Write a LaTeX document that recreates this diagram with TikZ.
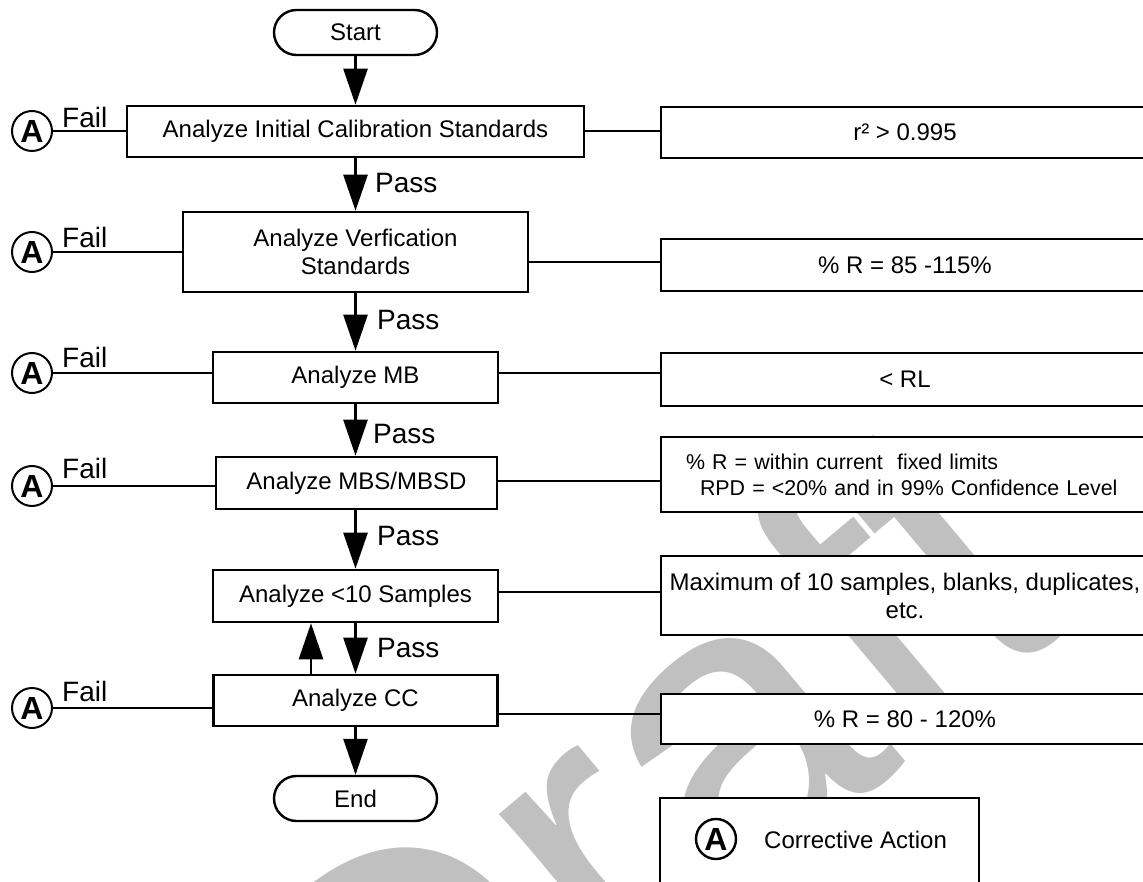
\documentclass[tikz,border=0pt]{standalone}
\usepackage{fontspec}
\setmainfont{Liberation Sans}
\usetikzlibrary{arrows.meta,shapes.misc}
\definecolor{wmgray}{RGB}{192,192,192}
\begin{document}
\begin{tikzpicture}[x=1pt,y=-1pt,
  proc/.style={draw,line width=2.6pt,fill=white,inner sep=0pt,
    font=\fontsize{24}{28}\selectfont,align=center},
  crit/.style={proc,minimum width=488pt},
  term/.style={draw,rounded rectangle,line width=2.4pt,fill=white,
    minimum width=163pt,minimum height=45pt,inner sep=0pt,
    font=\fontsize{24}{28}\selectfont},
  conn/.style={draw,circle,line width=2pt,fill=white,minimum size=40pt,
    inner sep=0pt,font=\fontsize{32}{32}\selectfont\bfseries},
  flow/.style={line width=2.6pt,-{Triangle[length=36pt,width=24pt]}},
  link/.style={line width=2.6pt},
  lbl/.style={anchor=base west,inner sep=0pt,font=\fontsize{28}{28}\selectfont},
]
\fill[white] (0,0) rectangle (1143,882);
\clip (0,0) rectangle (1143,882);

% watermark
\node[rotate=40,text=wmgray,inner sep=0pt,
  font=\fontsize{420}{420}\selectfont] (wm) at (640,790) {Draft};

% main column
\node[term] (start) at (355.5,32.5) {Start};
\node[proc,minimum width=457pt,minimum height=51pt] (b1) at (355.5,131.5)
  {Analyze Initial Calibration Standards};
\node[proc,minimum width=345pt,minimum height=80pt] (b2) at (355.5,252)
  {Analyze Verfication\\Standards};
\node[proc,minimum width=285pt,minimum height=51pt] (b3) at (355.5,377.5)
  {Analyze MB};
\node[proc,minimum width=281pt,minimum height=52pt] (b4) at (356.5,483)
  {Analyze MBS/MBSD};
\node[proc,minimum width=285pt,minimum height=52pt] (b5) at (355.5,596)
  {Analyze <10 Samples};
\node[proc,minimum width=284pt,minimum height=51pt] (b6) at (355.5,700.5)
  {Analyze CC};
\node[term] (end) at (355.5,798.5) {End};

% criteria column
\node[crit,minimum height=51pt] (r1) at (905,132.5) {r² > 0.995};
\node[crit,minimum height=52pt] (r2) at (905,265) {\% R = 85 -115\%};
\node[crit,minimum height=53pt] (r3) at (905,379.5) {< RL};
\node[crit,minimum height=75pt,text width=438pt,inner xsep=25pt,align=left,
  font=\fontsize{21.4}{26}\selectfont] (r4) at (905,474.5)
  {\% R = within current\ \ fixed limits\\\hspace*{14pt}RPD = <20\% and in 99\% Confidence Level};
\node[crit,minimum height=79pt] (r5) at (905,595.5)
  {Maximum of 10 samples, blanks, duplicates,\\etc.};
\node[crit,minimum height=50pt] (r6) at (905,719) {\% R = 80 - 120\%};

% corrective action connectors
\node[conn] (a1) at (32,131) {A};
\node[conn] (a2) at (32,252) {A};
\node[conn] (a3) at (32,373) {A};
\node[conn] (a4) at (32,486) {A};
\node[conn] (a6) at (32,708) {A};

\draw[link] (a1) -- (a1 -| b1.west);
\draw[link] (a2) -- (a2 -| b2.west);
\draw[link] (a3) -- (a3 -| b3.west);
\draw[link] (a4) -- (a4 -| b4.west);
\draw[link] (a6) -- (a6 -| b6.west);

\node[lbl] (f1) at (62,128) {Fail};
\node[lbl] (f2) at (62,248) {Fail};
\node[lbl] (f3) at (62,367) {Fail};
\node[lbl] (f4) at (62,478) {Fail};
\node[lbl] (f6) at (62,701) {Fail};

% links to criteria
\draw[link] (b1.east |- 0,131) -- (r1.west |- 0,131);
\draw[link] (b2.east |- 0,262) -- (r2.west |- 0,262);
\draw[link] (b3.east |- 0,373) -- (r3.west |- 0,373);
\draw[link] (b4.east |- 0,481) -- (r4.west |- 0,481);
\draw[link] (b5.east |- 0,592) -- (r5.west |- 0,592);
\draw[link] (b6.east |- 0,714) -- (r6.west |- 0,714);

% flow arrows
\draw[flow] (start) -- (b1);
\draw[flow] (b1) -- (b2);
\draw[flow] (b2) -- (b3);
\draw[flow] (b3.south) -- (b3.south |- b4.north);
\draw[flow] (b4.south -| b5.south) -- (b5.north);
\draw[flow] (b5) -- (b6);
\draw[flow] ([xshift=-44.5pt]b6.north) -- ([xshift=-44.5pt]b5.south);
\draw[flow] (b6) -- (end);

\node[lbl] (p1) at (375,193) {Pass};
\node[lbl] (p2) at (377,330) {Pass};
\node[lbl] (p3) at (373,443) {Pass};
\node[lbl] (p4) at (377,545) {Pass};
\node[lbl] (p5) at (377,657) {Pass};

% legend
\node[proc,minimum width=319pt,minimum height=110pt] (legend) at (819.5,853) {};
\node[conn,line width=2.4pt] (la) at (716,839) {A};
\node[anchor=west,inner sep=0pt,font=\fontsize{24}{28}\selectfont] (lt) at (764,840)
  {Corrective Action};
\end{tikzpicture}
\end{document}
